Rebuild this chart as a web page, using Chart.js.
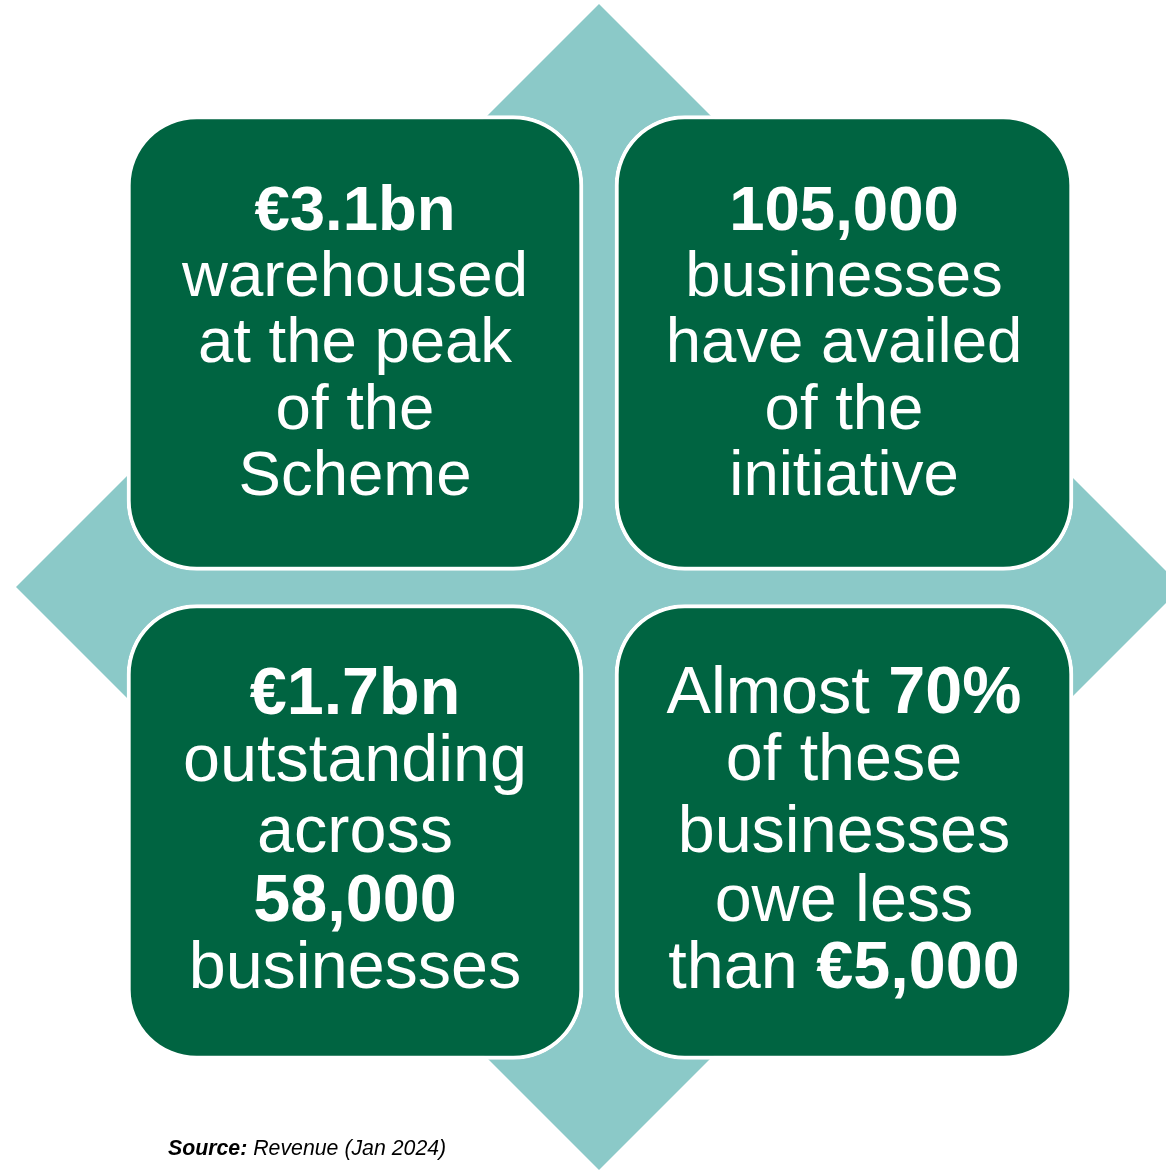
<!DOCTYPE html>
<html>
<head>
<meta charset="utf-8">
<script src="https://cdn.jsdelivr.net/npm/chart.js@4/dist/chart.umd.min.js"></script>
<style>
  html, body { margin: 0; padding: 0; background: #ffffff; }
  #wrap { position: relative; width: 1166px; height: 1171px; }
</style>
</head>
<body>
<div id="wrap"><canvas id="c"></canvas></div>
<script>
// ---- Content ----
// Diamond outline vertices (plot units)
const diamondX = [16, 599, 1182, 599, 16];
const diamondY = [587, 4, 587, 1170, 587];

// Four panels: horizontal extent and vertical centre (plot units)
const panelNames = ['peak', 'businesses', 'outstanding', 'share'];
const panelStart = [127, 615, 127, 615];
const panelEnd   = [583, 1073, 583, 1073];
const panelMid   = [343, 343, 832, 832];

// Text of each panel: lines of [text, bold] segments
const panelText = [
  [[['€3.1bn', true]], [['warehoused', false]], [['at the peak', false]], [['of the', false]], [['Scheme', false]]],
  [[['105,000', true]], [['businesses', false]], [['have availed', false]], [['of the', false]], [['initiative', false]]],
  [[['€1.7bn', true]], [['outstanding', false]], [['across', false]], [['58,000', true]], [['businesses', false]]],
  [[['Almost ', false], ['70%', true]], [['of these', false]], [['businesses', false]], [['owe less', false]], [['than ', false], ['€5,000', true]]]
];
const sourceBold = 'Source:';
const sourceText = ' Revenue (Jan 2024)';

// ---- Layout (styling) ----
const lineBaselines = [
  [230, 296, 362, 429, 495],
  [230, 296, 362, 429, 495],
  [714, 781, 852, 921, 988],
  [713, 780, 852, 921, 988]
];
const panelFontPx = [63.5, 63.5, 66.5, 66.5];
const FONT = '"Liberation Sans", Arial, Helvetica, sans-serif';
const GREEN = '#006441';
const TEAL = '#8BC9C8';

const textPlugin = {
  id: 'panelText',
  afterDatasetsDraw(chart) {
    const ctx = chart.ctx;
    const xs = chart.scales.x, ys = chart.scales.y;
    ctx.save();
    ctx.fillStyle = '#ffffff';
    ctx.textBaseline = 'alphabetic';
    ctx.textAlign = 'left';
    panelText.forEach((lines, p) => {
      const cx = xs.getPixelForValue((panelStart[p] + panelEnd[p]) / 2);
      const fs = panelFontPx[p] + 'px ';
      lines.forEach((segs, i) => {
        let total = 0;
        const widths = segs.map(([t, b]) => {
          ctx.font = (b ? 'bold ' : '') + fs + FONT;
          const w = ctx.measureText(t).width;
          total += w;
          return w;
        });
        let x = cx - total / 2;
        const y = ys.getPixelForValue(lineBaselines[p][i]);
        segs.forEach(([t, b], k) => {
          ctx.font = (b ? 'bold ' : '') + fs + FONT;
          ctx.fillText(t, x, y);
          x += widths[k];
        });
      });
    });
    // source note
    ctx.fillStyle = '#000000';
    const sx = xs.getPixelForValue(168), sy = ys.getPixelForValue(1155);
    ctx.font = 'italic bold 21.3px ' + FONT;
    ctx.fillText(sourceBold, sx, sy);
    const bw = ctx.measureText(sourceBold).width;
    ctx.font = 'italic 21.3px ' + FONT;
    ctx.fillText(sourceText, sx + bw, sy);
    ctx.restore();
  }
};

const diamondData = diamondX.map((x, i) => ({ x: x, y: diamondY[i] }));
const panelData = panelNames.map((n, i) => ({ y: panelMid[i], x: [panelStart[i], panelEnd[i]] }));

new Chart(document.getElementById('c'), {
  type: 'bar',
  data: {
    datasets: [
      {
        type: 'line',
        label: 'diamond',
        data: diamondData,
        parsing: { xAxisKey: 'x', yAxisKey: 'y' },
        backgroundColor: TEAL,
        borderColor: TEAL,
        borderWidth: 0,
        pointRadius: 0,
        tension: 0,
        fill: 'shape',
        order: 2,
        clip: false
      },
      {
        type: 'bar',
        label: 'panels',
        indexAxis: 'y',
        data: panelData,
        backgroundColor: GREEN,
        borderColor: '#ffffff',
        borderWidth: 4,
        borderRadius: 70,
        borderSkipped: false,
        barThickness: 455,
        order: 1
      }
    ]
  },
  options: {
    responsive: true,
    maintainAspectRatio: false,
    animation: false,
    layout: { padding: 0, autoPadding: false },
    plugins: { legend: { display: false }, tooltip: { enabled: false } },
    events: [],
    scales: {
      x: { type: 'linear', min: 0, max: 1166, display: false, offset: false, grid: { offset: false } },
      y: { type: 'linear', min: 0, max: 1171, reverse: true, display: false, offset: false, grid: { offset: false } }
    }
  },
  plugins: [textPlugin]
});
</script>
</body>
</html>
